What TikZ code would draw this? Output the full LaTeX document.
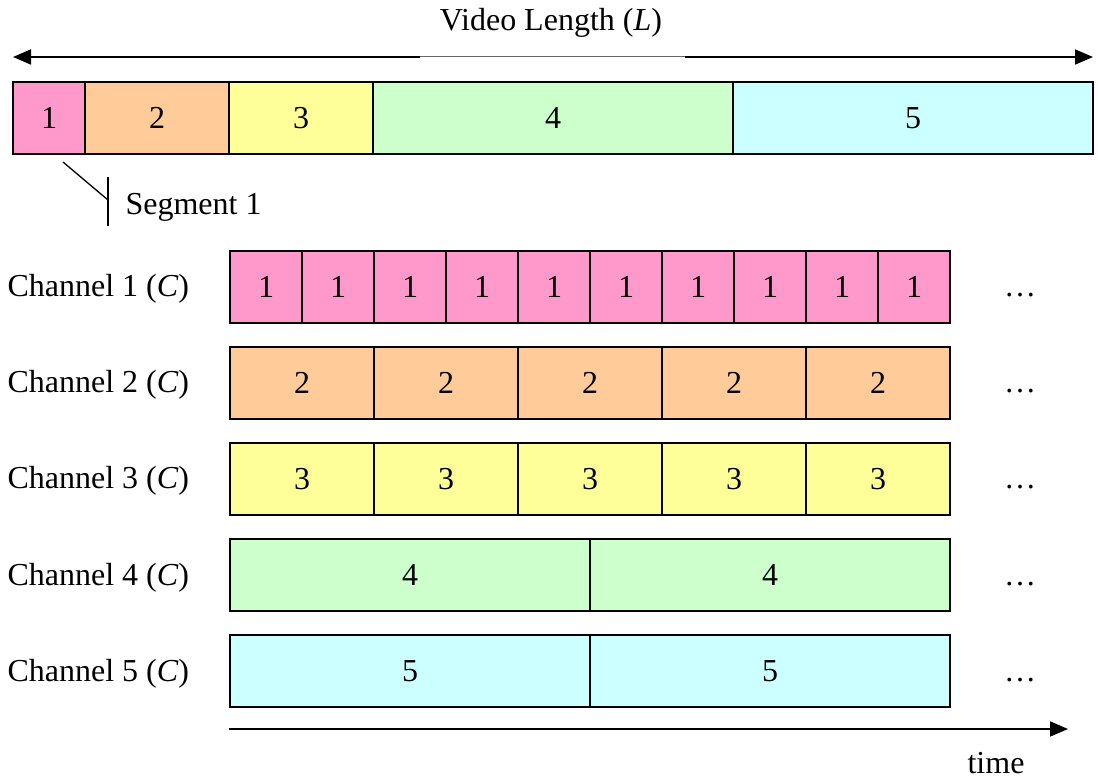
\documentclass[tikz,border=0pt]{standalone}
\usepackage{fontspec}
\setmainfont{Liberation Serif}
\usetikzlibrary{arrows.meta}
\definecolor{segpink}{HTML}{FF99CC}
\definecolor{segorange}{HTML}{FFCC99}
\definecolor{segyellow}{HTML}{FFFF99}
\definecolor{seggreen}{HTML}{CCFFCC}
\definecolor{segcyan}{HTML}{CCFFFF}
\begin{document}
\begin{tikzpicture}[x=1pt,y=-1pt,
  font=\fontsize{32}{38}\selectfont,
  cell/.style={draw=black, line width=2pt, inner sep=0pt, anchor=north west,
    minimum height=72pt},
  axis/.style={line width=1.8pt, -{Triangle[length=18pt,width=15pt]}},
  thin/.style={line width=1pt, black!60}]
\useasboundingbox (0,0) rectangle (1098,783);

% video length arrow
\coordinate (vl) at (13,57);
\coordinate (vr) at (1093,57);
\coordinate (gl) at (420,57);
\coordinate (gr) at (685,57);
\draw[axis] (gl) -- (vl);
\draw[axis] (gr) -- (vr);
\draw[thin] (gl) -- (gr);
\node[anchor=base] (vlen) at (551,31) {Video Length (\textit{L})};

% the whole video split into five segments
\node[cell, fill=segpink,   minimum width=72pt]  (s1) at (12,81)  {1};
\node[cell, fill=segorange, minimum width=144pt] (s2) at (84,81)  {2};
\node[cell, fill=segyellow, minimum width=144pt] (s3) at (228,81) {3};
\node[cell, fill=seggreen,  minimum width=360pt] (s4) at (372,81) {4};
\node[cell, fill=segcyan,   minimum width=360pt] (s5) at (732,81) {5};

% segment callout
\coordinate (ca) at (63,162);
\coordinate (cb) at (108,200);
\coordinate (ct) at (108,177);
\coordinate (cd) at (108,226);
\draw[line width=1.3pt] (ca) -- (cb);
\draw[line width=1.3pt] (ct) -- (cd);
\node[anchor=base west] (seglab) at (122,215) {Segment 1};

% broadcast channels
\foreach \k/\n/\w/\col in {1/10/72/segpink, 2/5/144/segorange, 3/5/144/segyellow,
                          4/2/360/seggreen, 5/2/360/segcyan} {
  \pgfmathsetmacro{\ytop}{250+96*(\k-1)}
  \pgfmathsetmacro{\ybase}{297+96*(\k-1)}
  \node[anchor=base west] (lab\k) at (4,\ybase) {Channel \k\ (\textit{C})};
  \foreach \i in {1,...,\n} {
    \node[cell, fill=\col, minimum width=\w pt] (c\k-\i) at ({229+\w*(\i-1)},\ytop) {\k};
  }
  \node[anchor=base] (dots\k) at (1020,\ybase) {\ldots};
}

% time axis
\coordinate (t0) at (229,729);
\coordinate (t1) at (1068,729);
\draw[axis] (t0) -- (t1);
\node[anchor=base] (time) at (996,773) {time};
\end{tikzpicture}
\end{document}
